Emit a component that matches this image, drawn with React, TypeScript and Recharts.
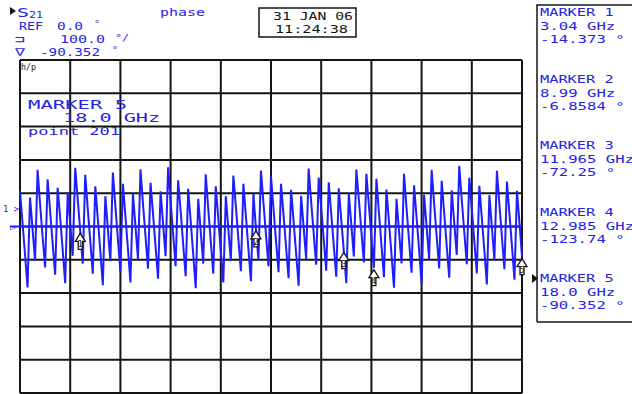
import React from "react";
import {
  LineChart,
  Line,
  CartesianGrid,
  XAxis,
  YAxis,
  ReferenceLine,
  ReferenceDot,
} from "recharts";

// sweep settings (GHz)
const START_GHZ = 1;
const STOP_GHZ = 18;

// S21 phase trace in degrees, 201 points
const phaseDeg = [
  106, 12, -84, -183, 87, -7, -103, 170, 67, -30,
  -123, 142, 47, -50, -145, 116, 27, -70, -170, 102,
  7, -88, 176, 82, -14.4, -112, 155, 53, -44, -142,
  121, 23, -74, -176, 91, -7, -104, 162, 61, -37,
  -134, 128, 31, -67, -168, 98, 1, -97, 172, 68,
  -29, -127, 131, 38, -59, -157, 106, 8, -89, 178,
  76, -22, -119, 139, 46, -52, -149, 113, 16, -82,
  -185, 83, -14, -112, 157, 53, -44, -142, 121, 23,
  -74, -168, 91, -7, -104, 153, 61, -37, -134, 128,
  31, -67, -164, 98, -6.86, -101, 168, 70, -25, -119,
  150, 52, -43, -137, 128, 34, -61, -155, 110, 16,
  -79, -178, 92, -2, -97, 174, 74, -20, -115, 147,
  56, -38, -133, 133, 38, -56, -151, 115, 20, -72.25,
  -170, 99, 5, -90, 171, 81, -13, -108, 158, 63,
  -31, -123.74, 143, 42, -55, -152, 111, 14, -83, -184,
  83, -14, -111, 158, 55, -42, -139, 124, 27, -70,
  -172, 96, -1, -98, 170, 68, -29, -126, 137, 40,
  -57, -154, 109, 12, -85, 182, 81, -16, -113, 146,
  53, -44, -141, 122, 25, -72, -174, 94, -3, -100,
  167, 66, -31, -128, 135, 38, -59, -160, 107, 10,
  -90.35,
];

const markerIds = [1, 2, 3, 4, 5];
const markerGhz = [3.04, 8.99, 11.965, 12.985, 18.0];
const markerDeg = [-14.373, -6.8584, -72.25, -123.74, -90.352];
const markerFreqLabels = ["3.04 GHz", "8.99 GHz", "11.965 GHz", "12.985 GHz", "18.0 GHz"];
const markerValueLabels = ["-14.373 °", "-6.8584 °", "-72.25 °", "-123.74 °", "-90.352 °"];

const rows = phaseDeg.map((p, i) => ({
  f: START_GHZ + (i * (STOP_GHZ - START_GHZ)) / (phaseDeg.length - 1),
  phase: p,
}));

const BLUE = "#2323e6";
const TRACE = "#1e1eff";
const INK = "#141414";
const MONO = "'DejaVu Sans Mono', monospace";

const T = ({ x, y, w, size = 11, fill = BLUE, children }: any) => (
  <text
    x={x}
    y={y}
    fontSize={size}
    fontFamily={MONO}
    fill={fill}
    textLength={w}
    lengthAdjust="spacingAndGlyphs"
  >
    {children}
  </text>
);

const MarkerGlyph = (n: number) => (props: any) => {
  const { cx, cy } = props;
  if (cx == null || cy == null) return null;
  return (
    <g>
      <path
        d={`M${cx},${cy + 2} L${cx - 5},${cy + 10} L${cx - 2},${cy + 10} L${cx - 2},${cy + 18} L${cx + 2},${cy + 18} L${cx + 2},${cy + 10} L${cx + 5},${cy + 10} Z`}
        fill="#fff"
        stroke={INK}
        strokeWidth={1.3}
      />
      <text x={cx} y={cy + 16} fontSize={8} fontFamily={MONO} fill={INK} textAnchor="middle">
        {n}
      </text>
    </g>
  );
};

const grid10 = (start: number, size: number) =>
  Array.from({ length: 11 }, (_, k) => start + (k * size) / 10);

export default function App() {
  return (
    <div style={{ position: "fixed", left: 0, top: 0, width: 632, height: 394, background: "#fff" }}>
      <LineChart
        width={632}
        height={394}
        data={rows}
        margin={{ top: 60, right: 110, bottom: 1, left: 20 }}
      >
        <CartesianGrid
          stroke={INK}
          strokeWidth={2}
          verticalCoordinatesGenerator={({ offset }: any) => grid10(offset.left, offset.width)}
          horizontalCoordinatesGenerator={({ offset }: any) => grid10(offset.top, offset.height)}
        />
        <XAxis type="number" dataKey="f" domain={[START_GHZ, STOP_GHZ]} hide />
        <YAxis type="number" domain={[-500, 500]} hide />
        <ReferenceLine y={0} stroke={TRACE} strokeWidth={2} />
        <Line
          type="linear"
          dataKey="phase"
          stroke={TRACE}
          strokeWidth={2}
          dot={false}
          isAnimationActive={false}
        />
        {markerIds.map((id, i) => (
          <ReferenceDot
            key={id}
            x={markerGhz[i]}
            y={markerDeg[i]}
            r={0}
            shape={MarkerGlyph(id)}
          />
        ))}
      </LineChart>

      <svg
        width={632}
        height={394}
        style={{ position: "absolute", left: 0, top: 0, pointerEvents: "none" }}
      >
        {/* header, upper left */}
        <polygon points="10,7 16,11 10,15" fill={INK} />
        <T x={17} y={17} w={12} size={12}>S</T>
        <T x={29} y={18} w={14} size={8}>21</T>
        <T x={160} y={16} w={45} size={11}>phase</T>
        <T x={19} y={30} w={24} size={11}>REF</T>
        <T x={57} y={30} w={26} size={11}>0.0</T>
        <T x={94} y={27} w={6} size={8}>°</T>
        <T x={15} y={43} w={10} size={11}>⊐</T>
        <T x={60} y={43} w={45} size={11}>100.0</T>
        <T x={115} y={41} w={14} size={8}>°/</T>
        <T x={15} y={56} w={10} size={11}>∇</T>
        <T x={40} y={56} w={60} size={11}>-90.352</T>
        <T x={112} y={53} w={6} size={8}>°</T>

        {/* date box */}
        <rect x={259} y={8} width={97} height={29} fill="none" stroke={INK} strokeWidth={1.5} />
        <T x={273} y={20} w={80} size={11} fill={INK}>31 JAN 06</T>
        <T x={275} y={33} w={73} size={11} fill={INK}>11:24:38</T>

        {/* inside the grid */}
        <T x={21} y={70} w={15} size={9} fill={INK}>h/p</T>
        <T x={28} y={109} w={99} size={12}>MARKER 5</T>
        <T x={63} y={122} w={97} size={12}>18.0 GHz</T>
        <T x={28} y={135} w={92} size={11}>point 201</T>
        <T x={3} y={212} w={16} size={9}>1 &gt;</T>
        <line x1={10} y1={226.5} x2={20} y2={226.5} stroke={TRACE} strokeWidth={2} />
        <T x={10} y={230} w={6} size={8}>▷</T>

        {/* marker panel, right */}
        <path d="M537,322 V5 H640 M537,322 H640" fill="none" stroke={INK} strokeWidth={1.5} />
        <polygon points="532,274 538,278.5 532,283" fill={INK} />
        {markerIds.map((id, i) => {
          const base = 16 + 66.5 * i;
          const name = `MARKER ${id}`;
          return (
            <g key={id}>
              <T x={540} y={base} w={name.length * 9.2} size={11}>{name}</T>
              <T x={540} y={base + 14} w={markerFreqLabels[i].length * 9.4} size={11}>
                {markerFreqLabels[i]}
              </T>
              <T x={540} y={base + 27} w={markerValueLabels[i].length * 9.4} size={11}>
                {markerValueLabels[i]}
              </T>
            </g>
          );
        })}
      </svg>
    </div>
  );
}
